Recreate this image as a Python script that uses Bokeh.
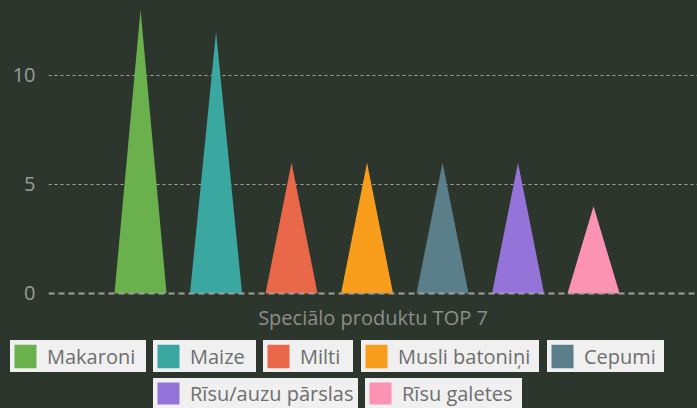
from bokeh.plotting import figure
from bokeh.layouts import column
from bokeh.models import (Legend, LegendItem, Span, FixedTicker, ColumnDataSource,
                          GlobalInlineStyleSheet)
from bokeh.embed import file_html
from bokeh.resources import INLINE

categories = ["Makaroni", "Maize", "Milti", "Musli batoniņi", "Cepumi",
              "Rīsu/auzu pārslas", "Rīsu galetes"]
values = [13, 12, 6, 6, 6, 6, 4]
colors = ["#6ab04c", "#3aa8a0", "#e9684a", "#f99e1c", "#5b7f8a", "#9574d9", "#fd93b4"]
y_ticks = [0, 5, 10]
x_label = "Speciālo produktu TOP 7"

BG = "#2d362c"
BOX = "#f0f0f0"
FONT = "Open Sans"
half = 0.345

xs = [[i - half, i, i + half] for i in range(len(values))]
ys = [[0, v, 0] for v in values]
src = ColumnDataSource(dict(xs=xs, ys=ys, color=colors, name=categories))

# ---- main chart ----
p = figure(width=697, height=333, output_backend="svg", toolbar_location=None,
           x_range=(-1.219, 7.377), y_range=(-0.092, 13.44),
           min_border_left=48, min_border_right=0, min_border_top=0,
           min_border_bottom=38)
p.frame_align = False
p.background_fill_color = BG
p.border_fill_color = BG
p.outline_line_color = None

p.patches("xs", "ys", source=src, fill_color="color", line_color=None)

p.yaxis.ticker = FixedTicker(ticks=y_ticks)
p.yaxis.axis_line_color = None
p.yaxis.major_tick_line_color = None
p.yaxis.minor_tick_line_color = None
p.yaxis.major_tick_out = 0
p.yaxis.major_tick_in = 0
p.yaxis.major_label_standoff = 13
p.yaxis.major_label_text_color = "#9c9c9c"
p.yaxis.major_label_text_font = FONT
p.yaxis.major_label_text_font_size = "20px"

p.xaxis.ticker = FixedTicker(ticks=[])
p.xaxis.axis_line_color = None
p.xaxis.major_tick_line_color = None
p.xaxis.minor_tick_line_color = None
p.xaxis.major_tick_out = 0
p.xaxis.major_tick_in = 0
p.xaxis.major_label_standoff = 0
p.xaxis.axis_label = x_label
p.xaxis.axis_label_standoff = 8
p.xaxis.axis_label_text_color = "#8d8d8d"
p.xaxis.axis_label_text_font = FONT
p.xaxis.axis_label_text_font_size = "20px"
p.xaxis.axis_label_text_font_style = "normal"

p.xgrid.visible = False
p.ygrid.ticker = FixedTicker(ticks=y_ticks[1:])
p.ygrid.grid_line_color = "#a5a5a5"
p.ygrid.grid_line_dash = "3 3"
p.ygrid.grid_line_width = 1
p.add_layout(Span(location=y_ticks[0], dimension="width", line_color="#a0a0a0",
                  line_width=2, line_dash="6 4"))

# ---- legend strip ----
lp = figure(width=697, height=75, output_backend="svg", toolbar_location=None,
            x_range=(0, 1), y_range=(0, 1), x_axis_location=None, y_axis_location=None,
            min_border=0, min_border_left=0, min_border_right=0,
            min_border_top=0, min_border_bottom=0)
lp.frame_align = False
lp.background_fill_color = BG
lp.border_fill_color = BG
lp.outline_line_color = None
lp.grid.visible = False

# legend-only swatches (one point each, outside the visible strip)
leg_r = []
for c in colors:
    r = lp.rect(x=[-5], y=[-5], width=1, height=1, fill_color=c,
                line_color=BOX, line_width=2)
    leg_r.append(r)

# per-item placement: (left x, y-from-bottom, label area width, item height)
legend_pos = [(10, 36, 99, 32), (153, 36, 66, 32), (263, 36, 53, 32),
              (361, 36, 141, 32), (547, 36, 80, 32),
              (153, 0, 168, 30), (365, 0, 120, 30)]

for i, (lx, ly, lw, lh) in enumerate(legend_pos):
    lg = Legend(items=[LegendItem(label=categories[i], renderers=[leg_r[i]])],
                orientation="horizontal", location=(lx, ly),
                spacing=0, padding=0, margin=0,
                glyph_width=30, glyph_height=lh, label_standoff=7,
                label_width=lw,
                label_text_font=FONT, label_text_font_size="20px",
                label_text_color="#6e6e6e",
                background_fill_alpha=0, border_line_alpha=0,
                item_background_policy="every",
                item_background_fill_color=BOX, item_background_fill_alpha=1)
    lp.add_layout(lg, "center")

layout = column(p, lp, spacing=0, styles={"background-color": BG},
                stylesheets=[GlobalInlineStyleSheet(css="html, body {background-color: #2d362c;}")])
open("out.html", "w").write(file_html(layout, INLINE))
